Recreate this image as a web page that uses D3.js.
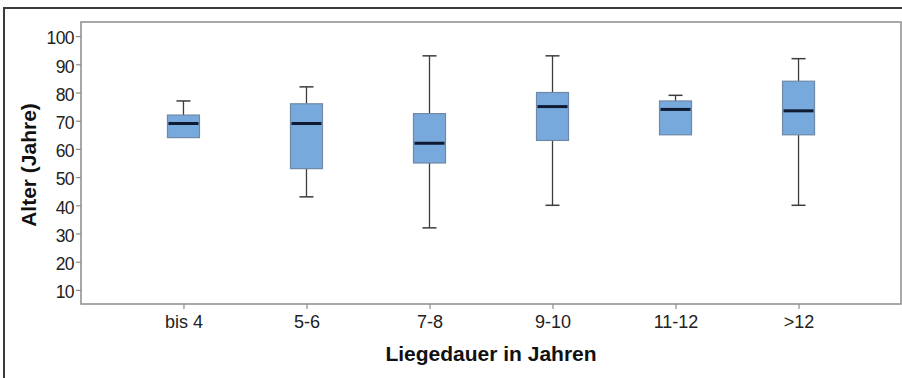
<!DOCTYPE html>
<html>
<head>
<meta charset="utf-8">
<script src="https://cdn.jsdelivr.net/npm/d3@7"></script>
<style>
  html, body { margin: 0; padding: 0; background: #fff; }
  svg { display: block; font-family: "Liberation Sans", Arial, sans-serif; }
</style>
</head>
<body>
<svg id="chart" width="902" height="378"></svg>
<script>
// Age distribution (five-number summaries) per length of stay
const categories = ["bis 4", "5-6", "7-8", "9-10", "11-12", ">12"];
const whiskerLow  = [64, 43, 32, 40, 65, 40];
const quartile1   = [64, 53, 55, 63, 65, 65];
const medians     = [69, 69, 62, 75, 74, 73.5];
const quartile3   = [72, 76, 72.5, 80, 77, 84];
const whiskerHigh = [77, 82, 93, 93, 79, 92];
const yTicks = [10, 20, 30, 40, 50, 60, 70, 80, 90, 100];

const svg = d3.select("#chart");

// outer frame (top and left edges)
svg.append("path")
  .attr("d", "M4,378V8H902")
  .attr("fill", "none")
  .attr("stroke", "#3a3a3a")
  .attr("stroke-width", 2);

const plot = { left: 81, right: 901, top: 22, bottom: 304 };

const x = d3.scalePoint()
  .domain(categories)
  .range([plot.left, plot.right])
  .padding(0.833);

const y = d3.scaleLinear()
  .domain([5, 105])
  .range([plot.bottom, plot.top]);

const boxes = categories.map((c, i) => ({
  cat: c, lo: whiskerLow[i], q1: quartile1[i], med: medians[i],
  q3: quartile3[i], hi: whiskerHigh[i]
}));

// plot frame
svg.append("rect")
  .attr("x", plot.left).attr("y", plot.top)
  .attr("width", plot.right - plot.left)
  .attr("height", plot.bottom - plot.top)
  .attr("fill", "#fff")
  .attr("stroke", "#8c8c8c")
  .attr("stroke-width", 1.5);

// y axis
const yAxis = svg.append("g")
  .attr("transform", `translate(${plot.left},0)`)
  .call(d3.axisLeft(y).tickValues(yTicks).tickSize(5).tickPadding(2).tickFormat(d3.format("d")));
yAxis.select(".domain").remove();
yAxis.selectAll(".tick line").attr("stroke", "#8c8c8c").attr("stroke-width", 1.2);
yAxis.selectAll(".tick text")
  .attr("fill", "#222")
  .attr("font-size", 17.5)
  .attr("letter-spacing", -0.6)
  .attr("dy", "0.45em");

// x axis
const xAxis = svg.append("g")
  .attr("transform", `translate(0,${plot.bottom})`)
  .call(d3.axisBottom(x).tickSize(5).tickPadding(6));
xAxis.select(".domain").remove();
xAxis.selectAll(".tick line").attr("stroke", "#8c8c8c").attr("stroke-width", 1.2);
xAxis.selectAll(".tick text")
  .attr("fill", "#222")
  .attr("font-size", 18);

// axis titles
svg.append("text")
  .attr("transform", `translate(36,${(plot.top + plot.bottom) / 2 + 2}) rotate(-90)`)
  .attr("text-anchor", "middle")
  .attr("font-size", 21)
  .attr("font-weight", "bold")
  .attr("fill", "#111")
  .text("Alter (Jahre)");

svg.append("text")
  .attr("x", (plot.left + plot.right) / 2)
  .attr("y", 361)
  .attr("text-anchor", "middle")
  .attr("font-size", 21)
  .attr("font-weight", "bold")
  .attr("fill", "#111")
  .text("Liegedauer in Jahren");

// box plots
const boxW = 32, capW = 14;
const g = svg.append("g").selectAll("g").data(boxes).join("g")
  .attr("transform", d => `translate(${x(d.cat)},0)`);

// whiskers
g.append("line")
  .attr("x1", 0).attr("x2", 0)
  .attr("y1", d => y(d.hi)).attr("y2", d => y(d.q3))
  .attr("stroke", "#3c3c3c").attr("stroke-width", 1.3);
g.append("line")
  .attr("x1", 0).attr("x2", 0)
  .attr("y1", d => y(d.q1)).attr("y2", d => y(d.lo))
  .attr("stroke", "#3c3c3c").attr("stroke-width", 1.3);
g.filter(d => d.hi > d.q3).append("line")
  .attr("x1", -capW / 2).attr("x2", capW / 2)
  .attr("y1", d => y(d.hi)).attr("y2", d => y(d.hi))
  .attr("stroke", "#3c3c3c").attr("stroke-width", 1.5);
g.filter(d => d.lo < d.q1).append("line")
  .attr("x1", -capW / 2).attr("x2", capW / 2)
  .attr("y1", d => y(d.lo)).attr("y2", d => y(d.lo))
  .attr("stroke", "#3c3c3c").attr("stroke-width", 1.5);

// boxes
g.append("rect")
  .attr("x", -boxW / 2).attr("width", boxW)
  .attr("y", d => y(d.q3))
  .attr("height", d => y(d.q1) - y(d.q3))
  .attr("fill", "#77a9dc")
  .attr("stroke", "#6f88a6")
  .attr("stroke-width", 1.2);

// medians
g.append("line")
  .attr("x1", -boxW / 2 + 1).attr("x2", boxW / 2 - 1)
  .attr("y1", d => y(d.med)).attr("y2", d => y(d.med))
  .attr("stroke", "#111a33").attr("stroke-width", 3);
</script>
</body>
</html>
